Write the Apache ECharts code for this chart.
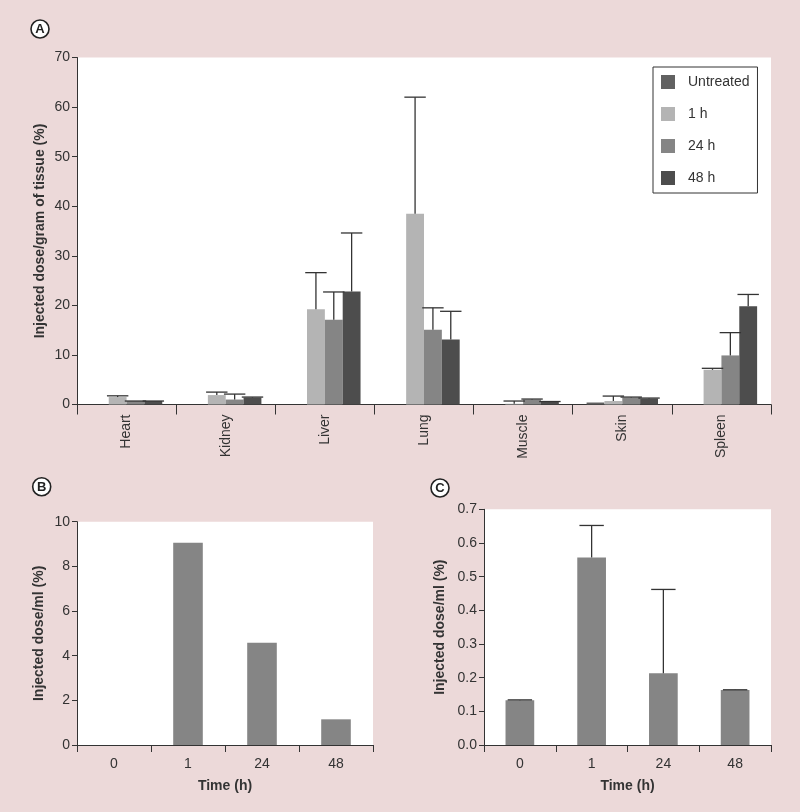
<!DOCTYPE html>
<html>
<head>
<meta charset="utf-8">
<script src="https://cdn.jsdelivr.net/npm/echarts@6/dist/echarts.min.js"></script>
<style>
  html, body { margin: 0; padding: 0; background: #ecd9d9; }
  #chart { width: 800px; height: 812px; }
</style>
</head>
<body>
<div id="chart"></div>
<script>
// Panel A - biodistribution by organ
const organs = ["Heart", "Kidney", "Liver", "Lung", "Muscle", "Skin", "Spleen"];
const untreated = [0, 0, 0, 0, 0, 0.4, 0];
const h1 = [1.5, 1.9, 19.2, 38.5, 0.15, 0.7, 7.0];
const h1Err = [1.75, 2.5, 26.6, 62.0, 0.7, 1.7, 7.3];
const h24 = [0.7, 1.0, 17.1, 15.1, 1.0, 1.4, 9.9];
const h24Err = [0.7, 2.1, 22.7, 19.5, 1.1, 1.5, 14.5];
const h48 = [0.7, 1.4, 22.8, 13.1, 0.5, 1.2, 19.8];
const h48Err = [0.7, 1.5, 34.6, 18.8, 0.6, 1.3, 22.2];

// Panels B and C - time course
const times = ["0", "1", "24", "48"];
const doseB = [0, 9.06, 4.58, 1.15];
const doseC = [0.133, 0.557, 0.213, 0.163];
const doseCErr = [0.134, 0.652, 0.462, 0.164];

const txt = "#333";
const font = "Liberation Sans";
const gapA = 0.28;

const chart = echarts.init(document.getElementById("chart"), null, { renderer: "canvas" });

// upward-only error bar, offset to the slot of a grouped bar
function errBar(slot, nBars, fill, capFrac) {
  return function (params, api) {
    const idx = api.value(0);
    const p = api.coord([idx, api.value(1)]);
    const q = api.coord([idx, api.value(2)]);
    const bw = api.size([1, 0])[0] * (1 - fill) / nBars;
    const x = p[0] + (slot - (nBars - 1) / 2) * bw;
    const half = bw * capFrac / 2;
    const st = { stroke: "#333", lineWidth: 1.3 };
    return {
      type: "group",
      children: [
        { type: "line", shape: { x1: x, y1: p[1], x2: x, y2: q[1] }, style: st },
        { type: "line", shape: { x1: x - half, y1: q[1], x2: x + half, y2: q[1] }, style: st }
      ]
    };
  };
}

function badge(letter, cx, cy) {
  return {
    type: "group",
    children: [
      { type: "circle", shape: { cx: cx, cy: cy, r: 9 }, style: { fill: "#fff", stroke: "#222", lineWidth: 1.6 } },
      { type: "text", style: { x: cx, y: cy + 0.5, text: letter, fill: "#222", font: "bold 13px " + font, textAlign: "center", textVerticalAlign: "middle" } }
    ]
  };
}

const axisLine = { show: true, lineStyle: { color: txt, width: 1 } };
const label = { color: txt, fontSize: 14, fontFamily: font };
const nameStyle = { color: txt, fontSize: 14, fontWeight: "bold", fontFamily: font };

function series(name, data, color) {
  return { name: name, type: "bar", xAxisIndex: 0, yAxisIndex: 0, data: data, itemStyle: { color: color }, barGap: "0%", barCategoryGap: (gapA * 100) + "%" };
}
function errSeries(vals, errs, slot, n, fill, capFrac, axis) {
  return {
    type: "custom", xAxisIndex: axis, yAxisIndex: axis, z: 5,
    renderItem: errBar(slot, n, fill, capFrac),
    encode: { x: 0, y: 1 },
    data: vals.map((v, i) => [i, v, errs[i]])
  };
}

chart.setOption({
  backgroundColor: "#ecd9d9",
  animation: false,
  textStyle: { fontFamily: font },
  grid: [
    { left: 77, top: 57.5, width: 694, height: 347, show: true, backgroundColor: "#fff", borderWidth: 0 },
    { left: 77, top: 521.7, width: 296, height: 223.3, show: true, backgroundColor: "#fff", borderWidth: 0 },
    { left: 484, top: 509.3, width: 287, height: 235.7, show: true, backgroundColor: "#fff", borderWidth: 0 }
  ],
  legend: {
    data: ["Untreated", "1 h", "24 h", "48 h"],
    orient: "vertical",
    left: 653, top: 67,
    itemWidth: 14, itemHeight: 14, itemGap: 18,
    icon: "rect",
    padding: [8, 8, 8, 8],
    backgroundColor: "#fff",
    borderColor: "#333", borderWidth: 1,
    textStyle: { color: txt, fontSize: 14, fontFamily: font, padding: [0, 0, 0, 8] }
  },
  xAxis: [
    { type: "category", gridIndex: 0, data: organs, axisLine: axisLine,
      axisTick: { show: true, length: 10, lineStyle: { color: txt } },
      axisLabel: Object.assign({ rotate: 90, margin: 10 }, label) },
    { type: "category", gridIndex: 1, data: times, axisLine: axisLine,
      axisTick: { show: true, length: 7, lineStyle: { color: txt } },
      axisLabel: Object.assign({ margin: 12 }, label),
      name: "Time (h)", nameLocation: "middle", nameGap: 34, nameTextStyle: nameStyle },
    { type: "category", gridIndex: 2, data: times, axisLine: axisLine,
      axisTick: { show: true, length: 7, lineStyle: { color: txt } },
      axisLabel: Object.assign({ margin: 12 }, label),
      name: "Time (h)", nameLocation: "middle", nameGap: 34, nameTextStyle: nameStyle }
  ],
  yAxis: [
    { type: "value", gridIndex: 0, min: 0, max: 70, interval: 10, axisLine: axisLine,
      axisTick: { show: true, length: 5, lineStyle: { color: txt } }, splitLine: { show: false },
      axisLabel: Object.assign({ margin: 7 }, label), nameMoveOverlap: false,
      name: "Injected dose/gram of tissue (%)", nameLocation: "middle", nameGap: 30, nameTextStyle: nameStyle },
    { type: "value", gridIndex: 1, min: 0, max: 10, interval: 2, axisLine: axisLine,
      axisTick: { show: true, length: 5, lineStyle: { color: txt } }, splitLine: { show: false },
      axisLabel: Object.assign({ margin: 7 }, label), nameMoveOverlap: false,
      name: "Injected dose/ml (%)", nameLocation: "middle", nameGap: 31, nameTextStyle: nameStyle },
    { type: "value", gridIndex: 2, min: 0, max: 0.7, interval: 0.1, axisLine: axisLine,
      axisTick: { show: true, length: 5, lineStyle: { color: txt } }, splitLine: { show: false },
      axisLabel: Object.assign({ margin: 7, formatter: v => v.toFixed(1) }, label), nameMoveOverlap: false,
      name: "Injected dose/ml (%)", nameLocation: "middle", nameGap: 37, nameTextStyle: nameStyle }
  ],
  series: [
    series("Untreated", untreated, "#616161"),
    series("1 h", h1, "#b4b4b4"),
    series("24 h", h24, "#858585"),
    series("48 h", h48, "#4d4d4d"),
    errSeries(h1, h1Err, 1, 4, gapA, 1.2, 0),
    errSeries(h24, h24Err, 2, 4, gapA, 1.2, 0),
    errSeries(h48, h48Err, 3, 4, gapA, 1.2, 0),
    { type: "bar", xAxisIndex: 1, yAxisIndex: 1, data: doseB, barWidth: "40%", itemStyle: { color: "#858585" } },
    { type: "bar", xAxisIndex: 2, yAxisIndex: 2, data: doseC, barWidth: "40%", itemStyle: { color: "#858585" } },
    errSeries(doseC, doseCErr, 0, 1, 0.6, 0.85, 2)
  ],
  graphic: [badge("A", 40, 29), badge("B", 41.7, 486.7), badge("C", 440, 488)]
});
</script>
</body>
</html>
